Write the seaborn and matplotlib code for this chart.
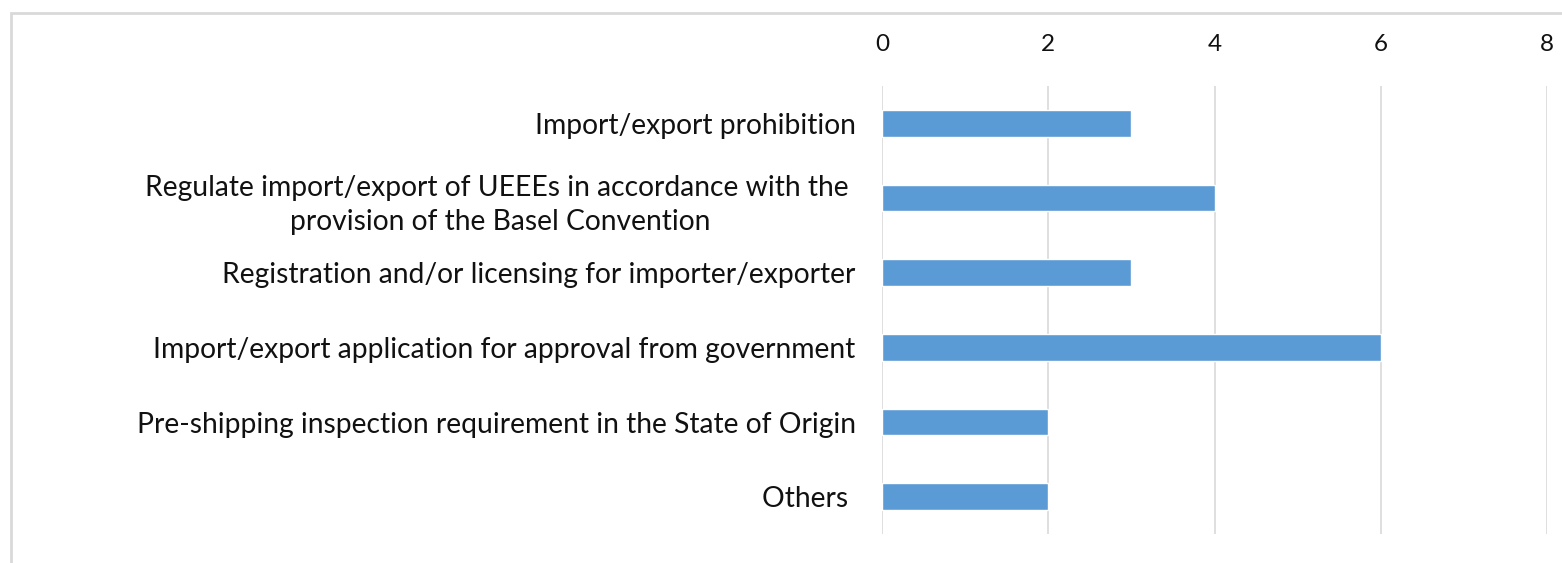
import pandas as pd
import seaborn as sns
import matplotlib.pyplot as plt
from matplotlib.patches import Rectangle

categories = [
    'Import/export prohibition',
    'Regulate import/export of UEEEs in accordance with the \nprovision of the Basel Convention',
    'Registration and/or licensing for importer/exporter',
    'Import/export application for approval from government',
    'Pre-shipping inspection requirement in the State of Origin',
    'Others ',
]
counts = [3, 4, 3, 6, 2, 2]
xticks = [0, 2, 4, 6, 8]

df = pd.DataFrame({'measure': categories, 'count': counts})

sns.set_style('white')
plt.rcParams['font.family'] = ['Lato', 'DejaVu Sans']

fig = plt.figure(figsize=(15.62, 5.63), dpi=100)
ax = fig.add_axes([0.5647, 0.0515, 0.4257, 0.7957])

sns.barplot(data=df, x='count', y='measure', orient='h', color='#5B9BD5',
            saturation=1, width=0.36, ax=ax)

ax.set_xlim(0, 8)
ax.set_ylim(5.5, -0.5)
ax.set_xticks(xticks)
ax.xaxis.tick_top()
ax.grid(axis='x', color='#d9d9d9', linewidth=1.2)
ax.set_axisbelow(True)
for s in ax.spines.values():
    s.set_visible(False)
ax.tick_params(axis='x', length=0, labelsize=17.5, colors='#111111', pad=22)
ax.tick_params(axis='y', length=0, labelsize=20.3, colors='#111111', pad=19)
for lab in ax.get_yticklabels():
    lab.set_horizontalalignment('right')
    lab.set_multialignment('center')
    lab.set_linespacing(1.4)
ax.set_xlabel('')
ax.set_ylabel('')

fig.patches.append(Rectangle((0.007, -0.05), 1.05, 1.027, transform=fig.transFigure,
                             fill=False, edgecolor='#d9d9d9', linewidth=2))

fig.savefig('out.png', dpi=100)
